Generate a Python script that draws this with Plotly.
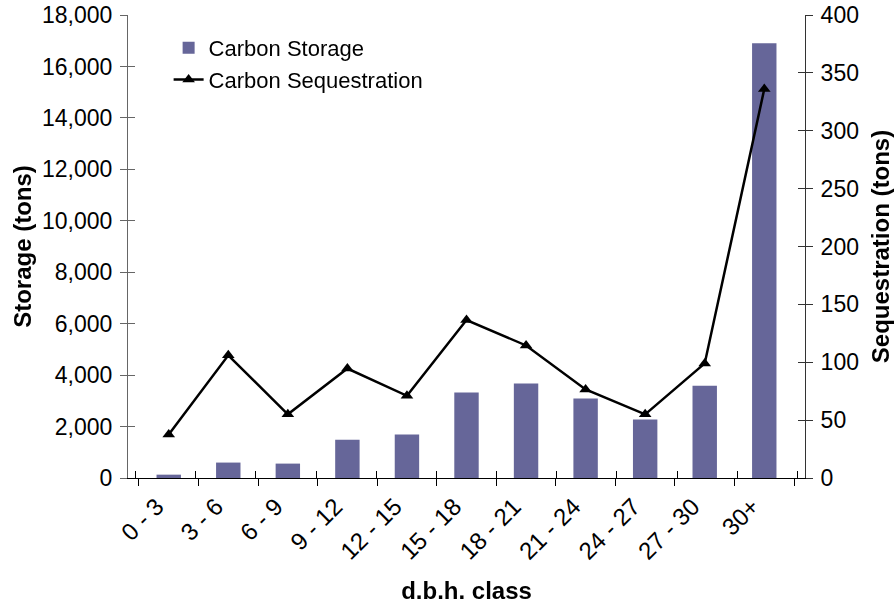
import plotly.graph_objects as go

categories = ["0 - 3", "3 - 6", "6 - 9", "9 - 12", "12 - 15", "15 - 18",
              "18 - 21", "21 - 24", "24 - 27", "27 - 30", "30+"]
storage = [130, 600, 560, 1490, 1690, 3320, 3670, 3090, 2270, 3590, 16900]
sequestration = [37.5, 106, 55, 94.6, 71, 136.5, 114.5, 76.5, 55, 99, 336]
storage_ticks = list(range(0, 18001, 2000))
seq_ticks = list(range(0, 401, 50))

font_family = "Liberation Sans, Arial, sans-serif"

fig = go.Figure()
fig.add_trace(go.Bar(
    x=categories, y=storage, name="Carbon Storage",
    marker=dict(color="#666699", line=dict(width=0)),
    yaxis="y",
))
fig.add_trace(go.Scatter(
    x=categories, y=sequestration, name="Carbon Sequestration",
    mode="lines+markers",
    line=dict(color="black", width=2.5),
    marker=dict(symbol="triangle-up", size=11, color="black"),
    yaxis="y2",
))
# invisible helper traces so the inner-tick axes get drawn
fig.add_trace(go.Scatter(
    x=categories, y=storage, xaxis="x2", yaxis="y3", mode="markers",
    opacity=0, showlegend=False, hoverinfo="skip",
))
fig.add_trace(go.Scatter(
    x=categories, y=sequestration, xaxis="x2", yaxis="y4", mode="markers",
    opacity=0, showlegend=False, hoverinfo="skip",
))

fig.update_layout(
    width=896, height=604,
    margin=dict(l=128, r=91, t=15, b=126, autoexpand=False),
    plot_bgcolor="white", paper_bgcolor="white",
    font=dict(family=font_family, size=22, color="black"),
    bargap=0.59,
    showlegend=True,
    legend=dict(x=0.06, y=0.974, xanchor="left", yanchor="top",
                bgcolor="rgba(0,0,0,0)", font=dict(size=22),
                tracegroupgap=0, itemwidth=30),
    xaxis=dict(
        type="category", tickangle=-45, tickson="boundaries",
        ticks="outside", ticklen=7, tickcolor="black",
        showline=True, linecolor="black", linewidth=1,
        showgrid=False, tickfont=dict(size=24), automargin=False,
        ticklabelshift=-12, ticklabelstandoff=4,
        title=dict(text="<b>d.b.h. class</b>", font=dict(size=24), standoff=22),
    ),
    xaxis2=dict(
        type="category", overlaying="x", tickson="boundaries", side="bottom",
        ticks="inside", ticklen=7, tickcolor="black", automargin=False,
        showticklabels=False, showline=False, showgrid=False,
    ),
    yaxis=dict(
        range=[0, 18000], tickvals=storage_ticks, automargin=False,
        tickformat=",d", ticks="outside", ticklen=7, tickcolor="#666",
        showline=True, linecolor="#666", linewidth=1, ticklabelstandoff=3,
        showgrid=False, zeroline=False, tickfont=dict(size=23),
        title=dict(text="<b>Storage (tons)</b>", font=dict(size=24), standoff=3),
    ),
    yaxis3=dict(
        range=[0, 18000], tickvals=storage_ticks, overlaying="y", side="left",
        ticks="inside", ticklen=7, tickcolor="#666", automargin=False,
        showticklabels=False, showline=False, showgrid=False, zeroline=False,
    ),
    yaxis2=dict(
        range=[0, 400], tickvals=seq_ticks, automargin=False,
        overlaying="y", side="right",
        ticks="outside", ticklen=7, tickcolor="#333",
        showline=True, linecolor="#333", linewidth=1, ticklabelstandoff=3,
        showgrid=False, zeroline=False, tickfont=dict(size=23),
        title=dict(text="<b>Sequestration (tons)</b>", font=dict(size=24), standoff=14),
    ),
    yaxis4=dict(
        range=[0, 400], tickvals=seq_ticks, overlaying="y", side="right",
        ticks="inside", ticklen=7, tickcolor="#333", automargin=False,
        showticklabels=False, showline=False, showgrid=False, zeroline=False,
    ),
)

fig.write_html("out.html")
